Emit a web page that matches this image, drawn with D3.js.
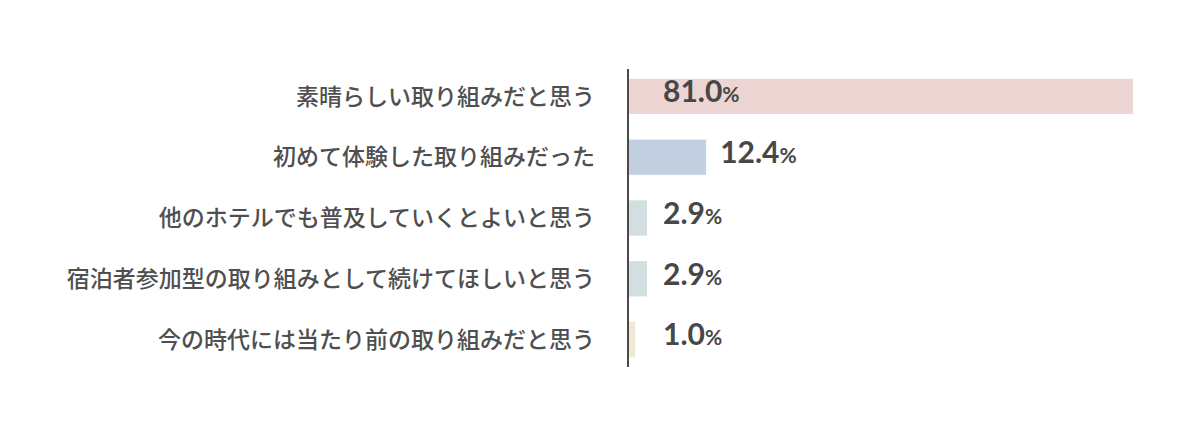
<!DOCTYPE html>
<html>
<head>
<meta charset="utf-8">
<script src="https://cdn.jsdelivr.net/npm/d3@7"></script>
<style>
  html, body { margin: 0; padding: 0; background: #fff; }
  svg { display: block; }
</style>
</head>
<body>
<svg id="chart"></svg>
<script>
const categories = [
    "素晴らしい取り組みだと思う",
    "初めて体験した取り組みだった",
    "他のホテルでも普及していくとよいと思う",
    "宿泊者参加型の取り組みとして続けてほしいと思う",
    "今の時代には当たり前の取り組みだと思う"
];
const values = [81.0, 12.4, 2.9, 2.9, 1.0];
const colors = ["#ecd5d2", "#c2cfe0", "#d3dee0", "#d3dee0", "#f1e8d6"];

const width = 1200;
const height = 436;
const margin = {top: 66, right: 67, bottom: 66, left: 629};

const data = categories.map((c, i) => ({name: c, value: values[i], color: colors[i]}));

const svg = d3.select("#chart")
    .attr("width", width)
    .attr("height", height)
    .attr("viewBox", [0, 0, width, height]);

const x = d3.scaleLinear()
    .domain([0, 81])
    .range([margin.left, width - margin.right]);

const y = d3.scaleBand()
    .domain(categories)
    .range([margin.top, height - margin.bottom])
    .paddingInner(0.42)
    .paddingOuter(0.21);

// bars
svg.append("g")
    .selectAll("rect")
    .data(data)
    .join("rect")
    .attr("x", x(0))
    .attr("y", d => y(d.name))
    .attr("width", d => x(d.value) - x(0))
    .attr("height", y.bandwidth())
    .style("fill", d => d.color);

// category labels
svg.append("g")
    .selectAll("text")
    .data(data)
    .join("text")
    .attr("x", x(0) - 34)
    .attr("y", d => y(d.name) + y.bandwidth() / 2)
    .attr("dy", "0.36em")
    .attr("text-anchor", "end")
    .style("font", "500 23px 'Noto Sans CJK JP', sans-serif")
    .style("fill", "#4f4f4f")
    .text(d => d.name);

// value labels: inside the long bar, after the short ones
const labelX = d => (x(d.value) + 120 > width
    ? x(0) + 34
    : Math.max(x(d.value) + 14, x(0) + 34));

const lbl = svg.append("g")
    .selectAll("text")
    .data(data)
    .join("text")
    .attr("x", labelX)
    .attr("y", d => y(d.name) + y.bandwidth() / 2)
    .attr("dy", "0.36em")
    .style("font-family", "Lato, sans-serif")
    .style("font-weight", 700)
    .style("fill", "#474747");
lbl.append("tspan").style("font-size", "30px").text(d => d.value.toFixed(1));
lbl.append("tspan").style("font-size", "21px").text("%");

// axis line
svg.append("line")
    .attr("x1", x(0) - 1)
    .attr("x2", x(0) - 1)
    .attr("y1", 69)
    .attr("y2", 367)
    .style("stroke", "#4a4a4a")
    .style("stroke-width", 2);
</script>
</body>
</html>
